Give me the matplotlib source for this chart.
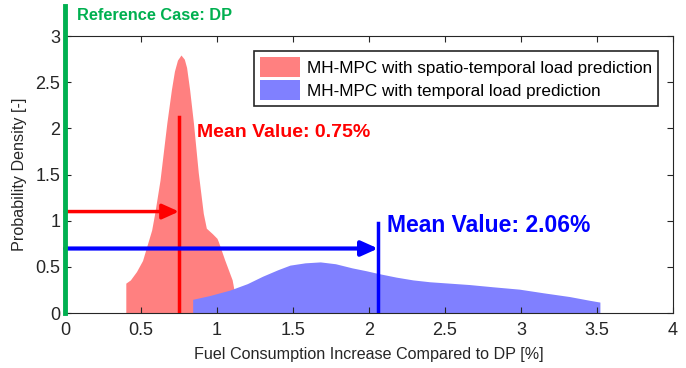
import matplotlib
matplotlib.use("Agg")
import matplotlib.pyplot as plt
import numpy as np

plt.rcParams['font.family'] = ['Liberation Sans', 'DejaVu Sans']

# density of fuel consumption increase, spatio-temporal prediction
x_st = [0.40, 0.43, 0.47, 0.51, 0.57, 0.59, 0.625, 0.67, 0.70, 0.72, 0.74, 0.763,
        0.785, 0.80, 0.82, 0.845, 0.877, 0.91, 0.93, 0.97, 1.00, 1.01, 1.05, 1.10, 1.14]
y_st = [0.325, 0.36, 0.45, 0.57, 0.90, 1.08, 1.44, 2.06, 2.42, 2.62, 2.74, 2.795,
        2.75, 2.66, 2.42, 2.06, 1.52, 1.08, 0.92, 0.86, 0.81, 0.77, 0.58, 0.36, 0.0]

# density for temporal-only prediction
x_t = [0.84, 0.95, 1.085, 1.20, 1.30, 1.40, 1.48, 1.58, 1.68, 1.78, 1.89, 1.98,
       2.06, 2.18, 2.29, 2.40, 2.53, 2.66, 2.82, 2.99, 3.15, 3.32, 3.45, 3.52]
y_t = [0.15, 0.19, 0.25, 0.32, 0.40, 0.47, 0.52, 0.545, 0.555, 0.535, 0.49, 0.46,
       0.43, 0.39, 0.36, 0.34, 0.325, 0.31, 0.285, 0.26, 0.22, 0.18, 0.14, 0.12]

mean_st = 0.75
mean_t = 2.06
labels = ["MH-MPC with spatio-temporal load prediction",
          "MH-MPC with temporal load prediction"]

fig = plt.figure(figsize=(6.86, 3.68), dpi=100)
ax = fig.add_axes([0.0948, 0.149, 0.886, 0.753])

ax.fill_between(x_st, 0, y_st, color="#ff8080", linewidth=0, label=labels[0])
ax.fill_between(x_t, 0, y_t, color="#8080ff", linewidth=0, label=labels[1])

# mean markers
ax.plot([mean_st, mean_st], [0, 2.12], color="#ff0000", lw=2.5, zorder=4)
ax.annotate("", xy=(mean_st, 1.1), xytext=(0, 1.1),
            arrowprops=dict(arrowstyle="-|>,head_length=1.0,head_width=0.45",
                            color="#ff0000", lw=2.5, shrinkA=0, shrinkB=0), zorder=4)
ax.text(0.87, 1.96, f"Mean Value: {mean_st:.2f}%", color="#ff0000",
        fontsize=14, fontweight="bold", va="center", ha="left")

ax.plot([mean_t, mean_t], [0, 0.975], color="#0000ff", lw=2.5, zorder=4)
ax.annotate("", xy=(mean_t, 0.7), xytext=(0, 0.7),
            arrowprops=dict(arrowstyle="-|>,head_length=1.0,head_width=0.45",
                            color="#0000ff", lw=3, shrinkA=0, shrinkB=0), zorder=4)
ax.text(2.12, 0.95, f"Mean Value: {mean_t:.2f}%", color="#0000ff",
        fontsize=16.5, fontweight="bold", va="center", ha="left")

# reference line at DP
ax.plot([0, 0], [0, 3.33], color="#00b050", lw=3.5, clip_on=False, zorder=5)
ax.text(0.08, 3.22, "Reference Case: DP", color="#00b050", fontsize=11.8,
        fontweight="bold", va="center", ha="left")

ax.set_xlim(0, 4)
ax.set_ylim(0, 3)
ax.set_xticks([0, 0.5, 1, 1.5, 2, 2.5, 3, 3.5, 4])
ax.set_xticklabels(["0", "0.5", "1", "1.5", "2", "2.5", "3", "3.5", "4"])
ax.set_yticks([0, 0.5, 1, 1.5, 2, 2.5, 3])
ax.set_yticklabels(["0", "0.5", "1", "1.5", "2", "2.5", "3"])
ax.tick_params(direction="in", top=True, right=True, labelsize=13,
               colors="#262626", length=4)
ax.tick_params(axis="x", pad=6)
for s in ax.spines.values():
    s.set_color("#262626")
ax.set_xlabel("Fuel Consumption Increase Compared to DP [%]", fontsize=11.6,
              color="#262626", labelpad=6)
ax.set_ylabel("Probability Density [-]", fontsize=11.6, color="#262626", labelpad=6)

leg = ax.legend(loc="upper right", bbox_to_anchor=(0.975, 0.946), fontsize=12.3,
                fancybox=False, edgecolor="#262626", framealpha=1,
                borderpad=0.35, handlelength=2.3, handleheight=1.4,
                handletextpad=0.4, labelspacing=0.2, borderaxespad=0)
leg.get_frame().set_linewidth(1.2)

fig.savefig("out.png", dpi=100)
